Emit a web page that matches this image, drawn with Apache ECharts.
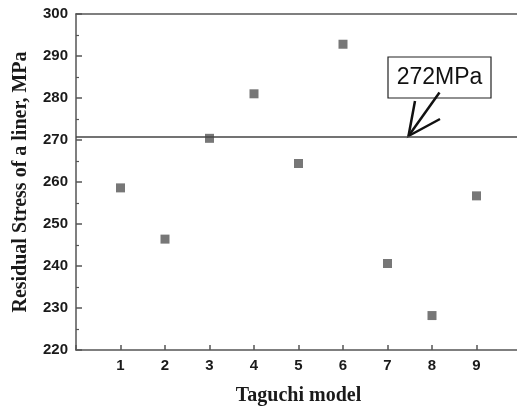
<!DOCTYPE html>
<html>
<head>
<meta charset="utf-8">
<script src="https://cdn.jsdelivr.net/npm/echarts@6/dist/echarts.min.js"></script>
<style>
html, body { margin: 0; padding: 0; background: #fff; }
#chart { width: 517px; height: 409px; }
</style>
</head>
<body>
<div id="chart"></div>
<script>
var models = [1, 2, 3, 4, 5, 6, 7, 8, 9];
var stress = [258.6, 246.4, 270.4, 281.0, 264.4, 292.8, 240.6, 228.2, 256.7];
var refLine = 270.7;
var yTicks = [220, 230, 240, 250, 260, 270, 280, 290, 300];

function drawChart(){
	var chart = echarts.init(document.getElementById('chart'));
	var points = models.map(function (m, i) { return [m, stress[i]]; });

	var option = {
		animation: false,
		grid: {
			left: 76,
			top: 14,
			right: -4,
			bottom: 59,
			outerBoundsMode: 'none'
		},
		xAxis: [{
			type: 'value',
			min: 0,
			max: 10,
			interval: 1,
			name: 'Taguchi model',
			nameLocation: 'middle',
			nameGap: 36,
			nameTextStyle: {
				fontFamily: 'Liberation Serif',
				fontWeight: 'bold',
				fontSize: 20,
				color: '#1a1a1a'
			},
			axisLine: { show: true, lineStyle: { color: '#555', width: 1.5 } },
			axisTick: { show: true, inside: true, length: 5, lineStyle: { color: '#555', width: 1.5 } },
			axisLabel: {
				margin: 8,
				fontFamily: 'Liberation Sans',
				fontWeight: 'bold',
				fontSize: 15,
				color: '#1a1a1a',
				formatter: function (v) { return (v >= 1 && v <= 9) ? String(v) : ''; }
			},
			splitLine: { show: false }
		}, {
			type: 'value',
			position: 'top',
			min: 0,
			max: 10,
			axisLine: { show: true, lineStyle: { color: '#555', width: 1.5 } },
			axisTick: { show: false },
			axisLabel: { show: false },
			splitLine: { show: false }
		}],
		yAxis: {
			type: 'value',
			min: yTicks[0],
			max: yTicks[yTicks.length - 1],
			interval: 10,
			name: 'Residual Stress of a liner, MPa',
			nameLocation: 'middle',
			nameGap: 45,
			nameTextStyle: {
				fontFamily: 'Liberation Serif',
				fontWeight: 'bold',
				fontSize: 20,
				color: '#1a1a1a'
			},
			axisLine: { show: true, lineStyle: { color: '#555', width: 1.5 } },
			axisTick: { show: true, inside: true, length: 6, lineStyle: { color: '#555', width: 1.5 } },
			minorTick: { show: true, splitNumber: 2, length: 3, lineStyle: { color: '#555', width: 1.2 } },
			axisLabel: {
				margin: 8,
				fontFamily: 'Liberation Sans',
				fontWeight: 'bold',
				fontSize: 15,
				color: '#1a1a1a'
			},
			splitLine: { show: false }
		},
		series: [{
			type: 'scatter',
			data: points,
			symbol: 'rect',
			symbolSize: 9,
			itemStyle: { color: '#555' },
			markLine: {
				silent: true,
				symbol: 'none',
				label: { show: false },
				lineStyle: { color: '#444', width: 1.5, type: 'solid' },
				data: [{ yAxis: refLine }]
			}
		}],
		graphic: [
			{
				type: 'rect',
				shape: { x: 388, y: 57, width: 103, height: 41 },
				style: { fill: '#fff', stroke: '#222', lineWidth: 1.2 }
			},
			{
				type: 'text',
				x: 439.5,
				y: 77.5,
				style: {
					text: '272MPa',
					fontFamily: 'Liberation Sans',
					fontSize: 23,
					fill: '#111',
					align: 'center',
					verticalAlign: 'middle'
				}
			},
			{
				type: 'polyline',
				shape: { points: [[439.5, 92.5], [408.5, 136]] },
				style: { stroke: '#111', lineWidth: 2.5, fill: null }
			},
			{
				type: 'polyline',
				shape: { points: [[415, 101], [408.5, 136], [440, 119]] },
				style: { stroke: '#111', lineWidth: 2.5, fill: null }
			}
		]
	};

	chart.setOption(option);
}

drawChart();
</script>
</body>
</html>
